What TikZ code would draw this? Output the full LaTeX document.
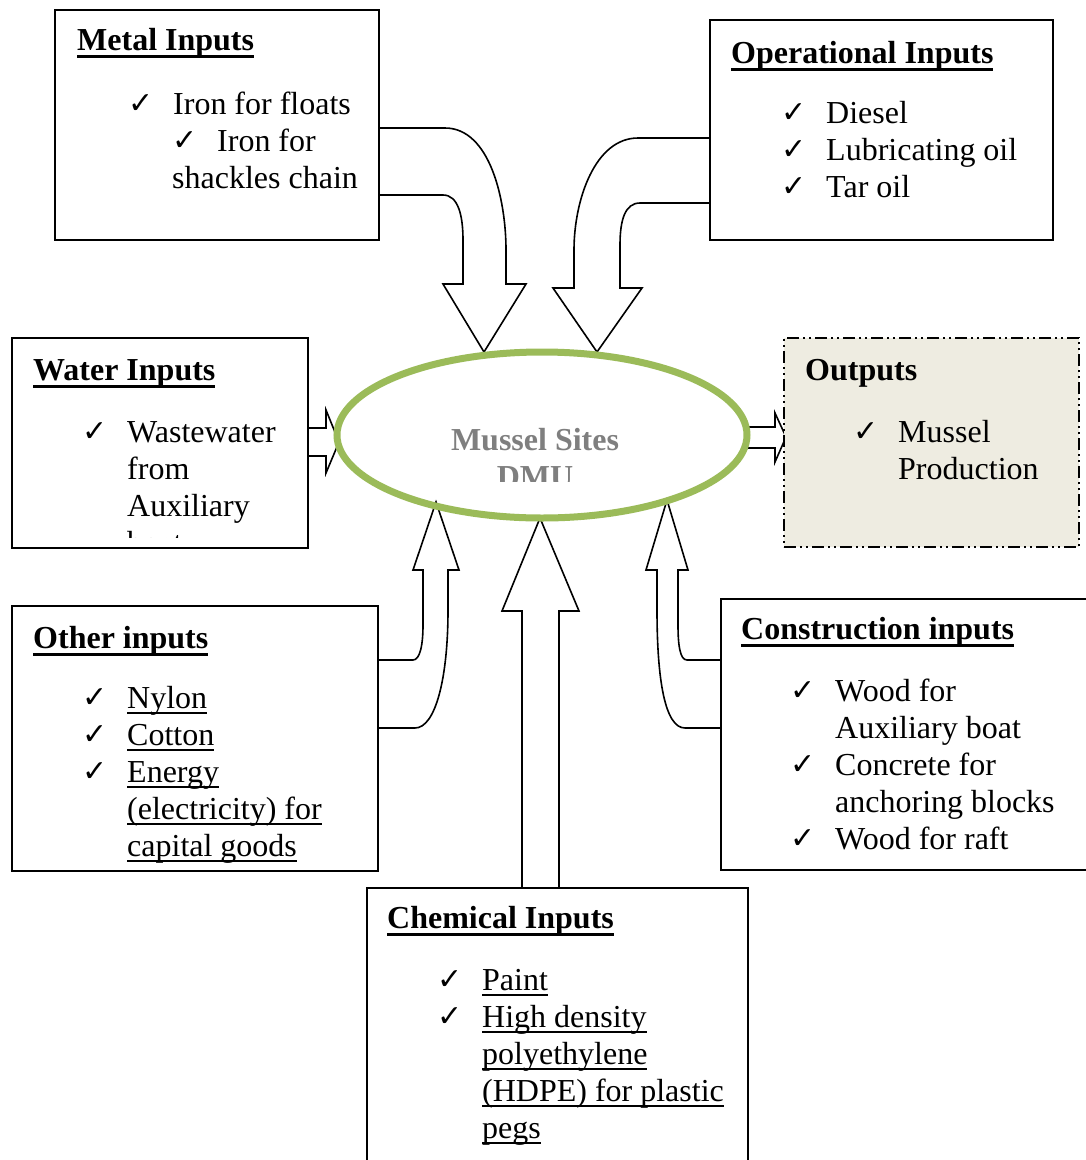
\documentclass[tikz,border=0pt]{standalone}
\usepackage{fontspec}
\setmainfont{Liberation Serif}
\newfontfamily\checkfont{DejaVu Sans}
\usetikzlibrary{shapes.geometric}

\definecolor{dmugreen}{HTML}{9BBB59}
\definecolor{dmugray}{HTML}{7F7F7F}
\definecolor{outfill}{HTML}{EEECE1}

\newcommand{\chk}{\makebox[45pt][l]{\raisebox{1pt}{\checkfont\fontsize{30}{30}\selectfont ✓}}}
\newcommand{\ind}{\hspace*{45pt}}
\newcommand{\ulbox}[1]{\setbox0=\hbox{#1}\rlap{\rule[-5.5pt]{\wd0}{2pt}}\box0}
\newcommand{\ultitle}[1]{\setbox0=\hbox{\bfseries #1}\rlap{\rule[-8pt]{\wd0}{3pt}}\box0}

\begin{document}
\begin{tikzpicture}[x=1pt, y=-1pt,
  box/.style={draw, line width=1.5pt, inner sep=0pt, outer sep=0pt},
  blockarrow/.style={draw, fill=white, line width=1.6pt, line join=miter},
  boxtitle/.style={anchor=base west, inner sep=0pt, font=\fontsize{32}{37}\selectfont\bfseries},
  boxitems/.style={anchor=base west, inner sep=0pt, font=\fontsize{32}{37}\selectfont}]
  \path[use as bounding box, clip] (0,0) rectangle (1086,1160);

  % Block arrows (inputs in, output out)
  \draw[blockarrow] (379,128) -- (445,128) .. controls (490,128) and (506,200) .. (506,250) -- (506,284) -- (526,284) -- (484,352) -- (443,284) -- (463,284) -- (463,240) .. controls (463,215) and (458,195) .. (443,195) -- (379,195);
  \draw[blockarrow] (710,138) -- (638,138) .. controls (595,138) and (574,200) .. (574,250) -- (574,288) -- (553,288) -- (597,352) -- (642,288) -- (620,288) -- (620,245) .. controls (620,220) and (625,203) .. (640,203) -- (710,203);
  \draw[blockarrow] (308,428) -- (326,428) -- (326,410) -- (339,442) -- (326,473) -- (326,456) -- (308,456);
  \draw[blockarrow] (745,427) -- (775,427) -- (775,413) -- (786,437) -- (775,462) -- (775,448) -- (745,448);
  \draw[blockarrow] (378,660) -- (413,660) .. controls (420,660) and (423,645) .. (423,625) -- (423,570) -- (413,570) -- (436,502) -- (459,570) -- (448,570) -- (448,610) .. controls (448,680) and (435,728) .. (415,728) -- (378,728);
  \draw[blockarrow] (721,660) -- (687,660) .. controls (680,660) and (678,645) .. (678,625) -- (678,570) -- (688,570) -- (667,500) -- (646,570) -- (657,570) -- (657,610) .. controls (657,680) and (665,728) .. (685,728) -- (721,728);
  \draw[blockarrow] (522,888) -- (522,611) -- (502,611) -- (540,518) -- (579,611) -- (559,611) -- (559,888);

  % DMU
  \node[ellipse, draw=dmugreen, line width=7pt, minimum width=410, minimum height=166, inner sep=0pt] (dmu) at (542,435) {};
  \begin{scope}
    \clip (340,395) rectangle (745,481);
    \node[boxtitle, text=dmugray, anchor=base] (dmulabel) at (535,450) {\begin{tabular}[t]{@{}c@{}}Mussel Sites\\DMU\end{tabular}};
  \end{scope}

  % Boxes
  \node[box, minimum width=324, minimum height=230] (metal) at (217,125) {};
  \node[box, minimum width=343, minimum height=220] (oper) at (881.5,130) {};
  \node[box, minimum width=296, minimum height=210] (water) at (160,443) {};
  \node[box, fill=outfill, line width=1.8pt, dash pattern=on 12pt off 4pt on 2pt off 4pt on 2pt off 4pt, minimum width=295, minimum height=209] (outputs) at (931.5,442.5) {};
  \node[box, minimum width=366, minimum height=265] (other) at (195,738.5) {};
  \node[box, minimum width=389, minimum height=271] (constr) at (915.5,734.5) {};
  \node[box, minimum width=381, minimum height=292] (chem) at (557.5,1034) {};

  % Metal inputs
  \node[boxtitle] (metaltitle) at (77,50) {\ultitle{Metal Inputs}};
  \node[boxitems] (metallist) at (128,114) {\begin{tabular}[t]{@{}l@{}}\chk Iron for floats\\ \hspace*{44pt}\chk Iron for\\ \hspace*{44pt}shackles chain\end{tabular}};

  % Operational inputs
  \node[boxtitle] (opertitle) at (731,63) {\ultitle{Operational Inputs}};
  \node[boxitems] (operlist) at (781,123) {\begin{tabular}[t]{@{}l@{}}\chk Diesel\\ \chk Lubricating oil\\ \chk Tar oil\end{tabular}};

  % Water inputs
  \node[boxtitle] (watertitle) at (33,380) {\ultitle{Water Inputs}};
  \begin{scope}
    \clip (12,338) rectangle (308,537);
    \node[boxitems] (waterlist) at (82,442) {\begin{tabular}[t]{@{}l@{}}\chk Wastewater\\ \ind from\\ \ind Auxiliary\\ \ind boat\end{tabular}};
  \end{scope}

  % Outputs
  \node[boxtitle] (outtitle) at (805,380) {Outputs};
  \node[boxitems] (outlist) at (853,442) {\begin{tabular}[t]{@{}l@{}}\chk Mussel\\ \ind Production\end{tabular}};

  % Other inputs
  \node[boxtitle] (othertitle) at (33,648) {\ultitle{Other inputs}};
  \node[boxitems] (otherlist) at (82,708) {\begin{tabular}[t]{@{}l@{}}\chk\ulbox{Nylon}\\ \chk\ulbox{Cotton}\\ \chk\ulbox{Energy}\\ \ind\ulbox{(electricity) for}\\ \ind\ulbox{capital goods}\end{tabular}};

  % Construction inputs
  \node[boxtitle] (constrtitle) at (741,639) {\ultitle{Construction inputs}};
  \node[boxitems] (constrlist) at (790,701) {\begin{tabular}[t]{@{}l@{}}\chk Wood for\\ \ind Auxiliary boat\\ \chk Concrete for\\ \ind anchoring blocks\\ \chk Wood for raft\end{tabular}};

  % Chemical inputs
  \node[boxtitle] (chemtitle) at (387,928) {\ultitle{Chemical Inputs}};
  \node[boxitems] (chemlist) at (437,990) {\begin{tabular}[t]{@{}l@{}}\chk\ulbox{Paint}\\ \chk\ulbox{High density}\\ \ind\ulbox{polyethylene}\\ \ind\ulbox{(HDPE) for plastic}\\ \ind\ulbox{pegs}\end{tabular}};
\end{tikzpicture}
\end{document}
